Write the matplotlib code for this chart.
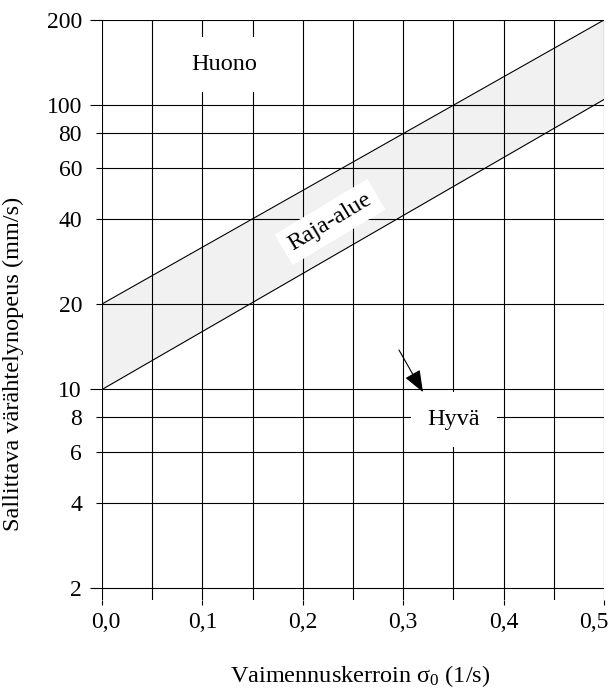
import numpy as np
import matplotlib
matplotlib.use('Agg')
import matplotlib.pyplot as plt
import matplotlib.transforms as mtransforms
from matplotlib.ticker import FixedLocator, FixedFormatter

# band limits (end points of the two straight lines on log scale)
x_ends = [0.0, 0.5]
upper = [20, 200]
lower = [10, 105]

x_ticks = [0.0, 0.1, 0.2, 0.3, 0.4, 0.5]
x_tick_labels = ['0,0', '0,1', '0,2', '0,3', '0,4', '0,5']
x_grid = [0.0, 0.05, 0.1, 0.15, 0.2, 0.25, 0.3, 0.35, 0.4, 0.45, 0.5]
y_major = [2, 10, 100, 200]
y_minor = [4, 6, 8, 20, 40, 60, 80]

plt.rcParams['font.family'] = 'Liberation Serif'
plt.rcParams['font.size'] = 17.5

fig = plt.figure(figsize=(6.15, 6.89), dpi=100)
ax = fig.add_axes([102/615, 1 - 600/689, 502/615, 580/689])

ax.set_yscale('log')
ax.set_xlim(0, 0.5)
ax.set_ylim(2 * 10 ** (-12 / 284), 200)

ax.fill_between(x_ends, lower, upper, color='#f1f1f1', zorder=1, lw=0)
ax.plot(x_ends, upper, color='black', lw=0.8, zorder=3)
ax.plot(x_ends, lower, color='black', lw=0.8, zorder=3)

for xv in x_grid:
    ax.axvline(xv, color='black', lw=0.8, zorder=2)
for yv in y_major + y_minor:
    ax.axhline(yv, color='black', lw=0.8, zorder=2)

for s in ax.spines.values():
    s.set_visible(False)

ax.xaxis.set_major_locator(FixedLocator(x_ticks))
ax.xaxis.set_major_formatter(FixedFormatter(x_tick_labels))
ax.xaxis.set_minor_locator(FixedLocator([]))
ax.tick_params(axis='x', which='major', length=3.6, width=0.8, pad=5, labelsize=17)

ax.yaxis.set_major_locator(FixedLocator(y_major))
ax.yaxis.set_major_formatter(FixedFormatter([str(v) for v in y_major]))
ax.yaxis.set_minor_locator(FixedLocator(y_minor))
ax.yaxis.set_minor_formatter(FixedFormatter([str(v) for v in y_minor]))
ax.tick_params(axis='y', which='major', length=8.6, width=0.8, pad=5.8, labelsize=17)
ax.tick_params(axis='y', which='minor', length=4.3, width=0.8, pad=10.1, labelsize=17)

# end labels nudged inwards so they stay on the page
fig.canvas.draw()
xlabels = ax.get_xticklabels()
xlabels[0].set_transform(xlabels[0].get_transform() +
                         mtransforms.ScaledTranslation(4/100, 0, fig.dpi_scale_trans))
xlabels[-1].set_transform(xlabels[-1].get_transform() +
                          mtransforms.ScaledTranslation(-10/100, 0, fig.dpi_scale_trans))

fig.text(13/615, 1 - 364/689, 'Sallittava värähtelynopeus (mm/s)',
         rotation=90, ha='center', va='center')
fig.text(360/615, 1 - 676/689, 'Vaimennuskerroin $\\mathregular{σ_0}$ (1/s)',
         ha='center', va='center')

box = dict(boxstyle='square,pad=0.7', fc='white', ec='none')
ax.text(0.1215, 138.9, 'Huono', ha='center', va='center', bbox=box, zorder=5)
ax.text(0.3506, 7.87, 'Hyvä', ha='center', va='center', bbox=box, zorder=5)
ax.text(0.2271, 38.86, 'Raja-alue', ha='center', va='center', rotation=31,
        rotation_mode='anchor',
        bbox=dict(boxstyle='square,pad=0.3', fc='white', ec='none'), zorder=5)

ax.annotate('', xy=(0.3197, 9.79), xytext=(0.2958, 13.77),
            arrowprops=dict(arrowstyle='-|>,head_length=0.9,head_width=0.35',
                            mutation_scale=15, color='black', lw=0.8,
                            shrinkA=0, shrinkB=0), zorder=6)

fig.savefig('out.png', dpi=100)
